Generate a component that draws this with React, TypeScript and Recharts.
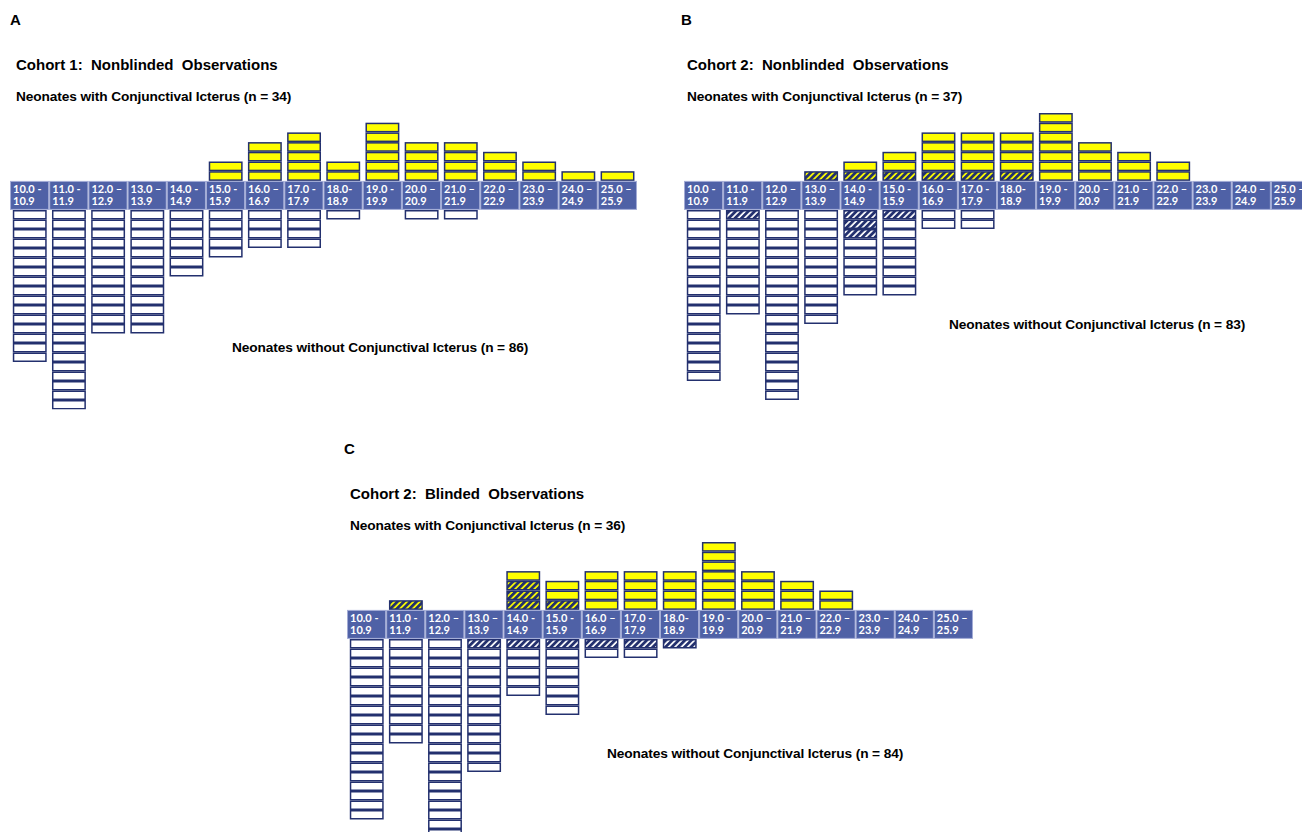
import React from 'react'
import { BarChart, Bar, XAxis, YAxis } from 'recharts'

// Bilirubin ranges (mg/dL), two-line tick labels
const rangeFrom = ['10.0 -', '11.0 -', '12.0 –', '13.0 –', '14.0 -', '15.0 -', '16.0 –', '17.0 -', '18.0-', '19.0 -', '20.0 –', '21.0 –', '22.0 –', '23.0 –', '24.0 –', '25.0 –']
const rangeTo = ['10.9', '11.9', '12.9', '13.9', '14.9', '15.9', '16.9', '17.9', '18.9', '19.9', '20.9', '21.9', '22.9', '23.9', '24.9', '25.9']

// Cohort 1: nonblinded
const c1Icteric = [0, 0, 0, 0, 0, 2, 4, 5, 2, 6, 4, 4, 3, 2, 1, 1]
const c1IctericHatched = [0, 0, 0, 0, 0, 0, 0, 0, 0, 0, 0, 0, 0, 0, 0, 0]
const c1NonIcteric = [16, 21, 13, 13, 7, 5, 4, 4, 1, 0, 1, 1, 0, 0, 0, 0]
const c1NonIctericHatched = [0, 0, 0, 0, 0, 0, 0, 0, 0, 0, 0, 0, 0, 0, 0, 0]

// Cohort 2: nonblinded
const c2Icteric = [0, 0, 0, 0, 1, 2, 4, 4, 4, 7, 4, 3, 2, 0, 0, 0]
const c2IctericHatched = [0, 0, 0, 1, 1, 1, 1, 1, 1, 0, 0, 0, 0, 0, 0, 0]
const c2NonIcteric = [18, 10, 20, 12, 6, 8, 2, 2, 0, 0, 0, 0, 0, 0, 0, 0]
const c2NonIctericHatched = [0, 1, 0, 0, 3, 1, 0, 0, 0, 0, 0, 0, 0, 0, 0, 0]

// Cohort 2: blinded
const c3Icteric = [0, 0, 0, 0, 1, 2, 4, 4, 4, 7, 4, 3, 2, 0, 0, 0]
const c3IctericHatched = [0, 1, 0, 0, 3, 1, 0, 0, 0, 0, 0, 0, 0, 0, 0, 0]
const c3NonIcteric = [19, 11, 21, 13, 5, 7, 1, 1, 0, 0, 0, 0, 0, 0, 0, 0]
const c3NonIctericHatched = [0, 0, 0, 1, 1, 1, 1, 1, 1, 0, 0, 0, 0, 0, 0, 0]

const NAVY = '#23306E'
const BAND = '#4F61A6'
const YELLOW = '#FFFF00'
const FONT = '"Liberation Sans", Arial, sans-serif'

const UNIT_UP = 9.7
const UNIT_DOWN = 9.5
const MAX_UP = 7
const MAX_DOWN = 21
const BAND_H = 29

function buildRows(up: number[], upH: number[], down: number[], downH: number[]) {
  return rangeFrom.map((from, i) => ({
    label: from,
    idx: i,
    upHatched: upH[i],
    up: up[i],
    downHatched: downH[i],
    down: down[i],
  }))
}

// draws one box per neonate inside the bar's rectangle
function boxes(key: string, fill: string) {
  return (props: any) => {
    const { x, y, width, height, payload } = props
    const n = payload ? payload[key] : 0
    if (!n || !height) return <g />
    const top = Math.min(y, y + height)
    const u = Math.abs(height) / n
    return (
      <g>
        {Array.from({ length: n }, (_, i) => (
          <rect
            key={i}
            x={x + 0.8}
            y={top + i * u + 0.75}
            width={width - 1.6}
            height={u - 1.5}
            fill={fill}
            stroke={NAVY}
            strokeWidth={1.5}
          />
        ))}
      </g>
    )
  }
}

function RangeTick(props: any) {
  const { x, y, payload, catW } = props
  const i = payload.index
  const left = x - catW / 2
  return (
    <g>
      <rect x={left + 0.5} y={y + 0.5} width={catW - 1} height={BAND_H - 1} fill={BAND} stroke="#A3ACD6" strokeWidth={1} />
      <text x={left + 3} y={y + 12} fill="#fff" fontFamily="Lato, sans-serif" fontWeight={700} fontSize={11}>{rangeFrom[i]}</text>
      <text x={left + 3} y={y + 24} fill="#fff" fontFamily="Lato, sans-serif" fontWeight={700} fontSize={11}>{rangeTo[i]}</text>
    </g>
  )
}

interface PanelProps {
  letter: string
  title: string
  withLabel: string
  withoutLabel: string
  rows: any[]
  left: number
  width: number
  bandTop: number
  textLeft: number
  letterTop: number
  withoutX: number
  withoutY: number
}

function Panel(p: PanelProps) {
  const catW = p.width / rangeFrom.length
  const upH = MAX_UP * UNIT_UP
  const txt = (x: number, y: number, size: number, s: string, ls = 0) => (
    <div style={{ position: 'absolute', left: x, top: y, fontFamily: FONT, fontWeight: 700, fontSize: size, letterSpacing: ls, whiteSpace: 'pre', lineHeight: 1, color: '#000' }}>{s}</div>
  )
  return (
    <>
      {txt(p.textLeft - 6, p.letterTop - 8, 15, p.letter)}
      {txt(p.textLeft, p.letterTop + 37, 15, p.title)}
      {txt(p.textLeft, p.letterTop + 70, 13.7, p.withLabel, -0.1)}
      {txt(p.withoutX, p.withoutY, 13.7, p.withoutLabel, -0.1)}
      <div style={{ position: 'absolute', left: p.left, top: p.bandTop - upH }}>
        <BarChart width={p.width} height={upH + BAND_H} data={p.rows} margin={{ top: 0, right: 0, bottom: 0, left: 0 }} barCategoryGap="7%">
          <XAxis dataKey="label" height={BAND_H} interval={0} axisLine={false} tickLine={false} tickSize={0} tickMargin={0} tick={<RangeTick catW={catW} />} />
          <YAxis hide domain={[0, MAX_UP]} allowDataOverflow />
          <Bar dataKey="upHatched" stackId="a" isAnimationActive={false} shape={boxes('upHatched', 'url(#hatchYellow)')} />
          <Bar dataKey="up" stackId="a" isAnimationActive={false} shape={boxes('up', YELLOW)} />
        </BarChart>
      </div>
      <div style={{ position: 'absolute', left: p.left, top: p.bandTop + BAND_H }}>
        <BarChart width={p.width} height={MAX_DOWN * UNIT_DOWN} data={p.rows} margin={{ top: 0, right: 0, bottom: 0, left: 0 }} barCategoryGap="7%">
          <XAxis dataKey="label" hide />
          <YAxis hide reversed domain={[0, MAX_DOWN]} allowDataOverflow />
          <Bar dataKey="downHatched" stackId="b" isAnimationActive={false} shape={boxes('downHatched', 'url(#hatchWhite)')} />
          <Bar dataKey="down" stackId="b" isAnimationActive={false} shape={boxes('down', '#fff')} />
        </BarChart>
      </div>
    </>
  )
}

export default function App() {
  const rows1 = buildRows(c1Icteric, c1IctericHatched, c1NonIcteric, c1NonIctericHatched)
  const rows2 = buildRows(c2Icteric, c2IctericHatched, c2NonIcteric, c2NonIctericHatched)
  const rows3 = buildRows(c3Icteric, c3IctericHatched, c3NonIcteric, c3NonIctericHatched)

  return (
    <div style={{ position: 'absolute', left: 0, top: 0, width: 1302, height: 832, overflow: 'hidden', background: '#fff' }}>
      {/* shared hatch patterns */}
      <svg width={0} height={0} style={{ position: 'absolute' }}>
        <defs>
          <pattern id="hatchYellow" patternUnits="userSpaceOnUse" width={4.5} height={4.5} patternTransform="rotate(45)">
            <rect width={4.5} height={4.5} fill={YELLOW} />
            <line x1={1.4} y1={0} x2={1.4} y2={4.5} stroke={NAVY} strokeWidth={2.8} />
          </pattern>
          <pattern id="hatchWhite" patternUnits="userSpaceOnUse" width={4.5} height={4.5} patternTransform="rotate(45)">
            <rect width={4.5} height={4.5} fill="#fff" />
            <line x1={1.4} y1={0} x2={1.4} y2={4.5} stroke={NAVY} strokeWidth={2.8} />
          </pattern>
        </defs>
      </svg>
      <Panel
        letter="A" title="Cohort 1:  Nonblinded  Observations" withLabel="Neonates with Conjunctival Icterus (n = 34)"
        withoutLabel="Neonates without Conjunctival Icterus (n = 86)" rows={rows1}
        left={10} width={627} bandTop={181} textLeft={16} letterTop={20} withoutX={232} withoutY={341}
      />
      <Panel
        letter="B" title="Cohort 2:  Nonblinded  Observations" withLabel="Neonates with Conjunctival Icterus (n = 37)"
        withoutLabel="Neonates without Conjunctival Icterus (n = 83)" rows={rows2}
        left={684} width={626} bandTop={181} textLeft={687} letterTop={20} withoutX={949} withoutY={318}
      />
      <Panel
        letter="C" title="Cohort 2:  Blinded  Observations" withLabel="Neonates with Conjunctival Icterus (n = 36)"
        withoutLabel="Neonates without Conjunctival Icterus (n = 84)" rows={rows3}
        left={347} width={626} bandTop={610} textLeft={350} letterTop={449} withoutX={607} withoutY={747}
      />
    </div>
  )
}
